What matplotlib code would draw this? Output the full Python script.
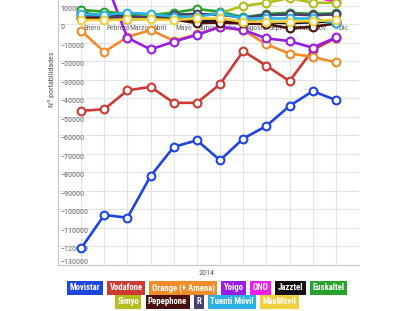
import numpy as np
import matplotlib
matplotlib.use("Agg")
import matplotlib.pyplot as plt
import matplotlib.transforms as mtransforms
from matplotlib import font_manager

names = {f.name for f in font_manager.fontManager.ttflist}
narrow = [n for n in ['Liberation Sans Narrow', 'DejaVu Sans Condensed', 'Roboto Condensed',
                      'Open Sans Condensed', 'Roboto'] if n in names]
plt.rcParams['font.family'] = narrow[:1] + ['DejaVu Sans']

months = ["Enero", "Febrero", "Marzo", "Abril", "Mayo", "Junio",
          "Julio", "Agosto", "Sept.", "Octubre", "Nov.", "Dic."]
operators = ["Movistar", "Vodafone", "Orange (+ Amena)", "Yoigo", "ONO", "Jazztel",
             "Euskaltel", "Simyo", "Pepephone", "R", "Tuenti Móvil", "MásMóvil"]
colors = ["#1f45e0", "#cc3a33", "#f08c28", "#9a1de6", "#f01ee8", "#111111",
          "#27a22b", "#b4bd1e", "#4a0f0f", "#4c3f6e", "#2ab1e3", "#f0cf3c"]

movistar = [-121000, -103000, -104500, -82000, -66300, -62700, -73500, -61800, -55000, -44200, -36200, -41000]
vodafone = [-46800, -46000, -35800, -33900, -42500, -42500, -32400, -14600, -22500, -30800, -14000, -7500]
orange = [-3600, -15000, -7000, -3200, -9000, -5500, -1800, -3300, -11000, -15900, -17700, -20700]
yoigo = [40000, 25000, -7400, -13700, -9500, -5900, -1400, -3200, -7700, -9200, -12800, -7200]
ono = [20000, 18000, 19000, 17000, 18000, 20000, 17000, 19000, 18000, 16000, 15000, 12000]
jazztel = [6000, 4500, 4000, 4000, 3500, 1500, 2000, 1500, 1000, 500, 1000, 1500]
euskaltel = [7600, 6700, 5500, 4900, 6100, 8100, 6700, 3600, 5400, 6100, 5500, 5800]
simyo = [3000, 3500, 3500, 4000, 4500, 4500, 6100, 9700, 11500, 14000, 11500, 11500]
pepephone = [3500, 3000, 2500, 3000, 2500, 500, 800, 300, 0, -2300, -1500, 300]
r_cable = [5000, 4000, 4000, 3500, 5000, 5500, 5000, 3500, 4800, 5200, 4800, 5200]
tuenti = [5400, 4900, 6100, 5400, 4000, 4000, 5800, 3000, 3000, 3000, 3000, 400]
masmovil = [2200, 2200, 2500, 2500, 2200, 3000, 3000, 1300, 1300, 1300, 1700, 2200]

series = [movistar, vodafone, orange, yoigo, ono, jazztel,
          euskaltel, simyo, pepephone, r_cable, tuenti, masmovil]

W, H = 414, 311
fig = plt.figure(figsize=(W / 100, H / 100), dpi=100)
ax = fig.add_axes([58 / W, (H - 265) / H, 301 / W, 265 / H])

x = np.arange(len(months))
for vals, c in zip(series, colors):
    ax.plot(x, vals, color=c, lw=1.9, marker='o', ms=5.6, mfc='white',
            mec=c, mew=1.5, zorder=3)

ax.set_xlim(-1, 12)
ax.set_ylim(-130000, 12970)
ax.set_xticks(np.arange(-1, 13))
ax.set_xticklabels([])
ax.set_yticks(np.arange(-130000, 10001, 10000))
ax.grid(True, color="#e3e3e3", lw=0.8, zorder=0)
ax.tick_params(axis='x', length=0)
ax.tick_params(axis='y', length=0, pad=-1.5, labelsize=5.8, labelcolor="#666666")
ylabels = ax.get_yticklabels()
for lab in ylabels:
    lab.set_ha('left')
    lab.set_va('top')
ylabels[0].set_va('bottom')

for s in ['top', 'right']:
    ax.spines[s].set_visible(False)
for s in ['left', 'bottom']:
    ax.spines[s].set_color("#c8c8c8")
    ax.spines[s].set_linewidth(0.8)

off = mtransforms.offset_copy(ax.transData, fig=fig, x=1.5, y=-1, units='points')
for i, m in enumerate(months):
    ax.text(i, 0, m, transform=off, ha='left', va='top', fontsize=5.6,
            color="#666666", zorder=2)

fig.text(52 / W, 1 - 79 / H, "Nº portabilidades", rotation=90, ha='center',
         va='center', fontsize=5.8, color="#555555")
fig.text(207 / W, 1 - 273 / H, "2014", ha='center', va='center',
         fontsize=5.8, color="#555555")

# legend built as coloured boxes, two centred rows
rows = [range(0, 7), range(7, 12)]
row_y = [288, 302]
renderer = fig.canvas.get_renderer()
gap, padx = 3.0, 3.0
for idx, yc in zip(rows, row_y):
    texts = []
    for k in idx:
        t = fig.text(0, 1 - yc / H, operators[k], ha='center', va='center',
                     fontsize=6.3, color='white', fontweight='bold',
                     bbox=dict(boxstyle='square,pad=0.28', fc=colors[k], ec='none'))
        texts.append(t)
    widths = [t.get_window_extent(renderer).width for t in texts]
    box_w = [w + 2 * padx for w in widths]
    total = sum(box_w) + gap * (len(box_w) - 1)
    xpos = W / 2 - total / 2
    for t, bw in zip(texts, box_w):
        t.set_x((xpos + bw / 2) / W)
        xpos += bw + gap

fig.savefig("out.png", dpi=100)
